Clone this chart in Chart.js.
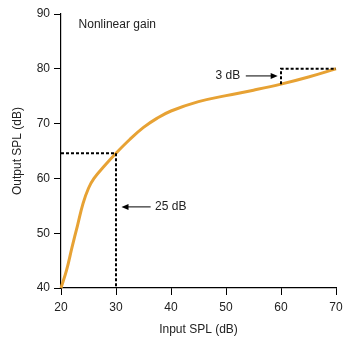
<!DOCTYPE html>
<html>
<head>
<meta charset="utf-8">
<script src="https://cdn.jsdelivr.net/npm/chart.js@4"></script>
<style>
  html, body { margin: 0; padding: 0; background: #fff; }
  #wrap { width: 357px; height: 342px; }
</style>
</head>
<body>
<div id="wrap"><canvas id="gain"></canvas></div>
<script>
// input / output levels of the gain curve (dB SPL)
const inputLevels  = [20, 21, 22, 23, 24, 25, 26, 28, 30, 32.5, 35, 37.5, 40, 45, 50, 55, 60, 65, 70];
const outputLevels = [40, 43.2, 47.4, 51.4, 55.4, 58.2, 60, 62.4, 64.6, 67.1, 69.3, 71, 72.3, 74, 75.1, 76.1, 77.2, 78.5, 80];

// dashed guides: 25 dB of output range, and the 3 dB step at the top
const guide25x = [20, 30, 30];
const guide25y = [64.6, 64.6, 40];
const guide3x  = [60, 60, 70];
const guide3y  = [77.2, 80, 80];

const xTicks = [20, 30, 40, 50, 60, 70];
const yTicks = [40, 50, 60, 70, 80, 90];

// text labels and their arrows, in data units
const notes = [
  { text: "Nonlinear gain", x: 23.2, y: 88, align: "left" },
  { text: "3 dB", x: 52.6, y: 78.7, align: "right" },
  { text: "25 dB", x: 37.1, y: 54.8, align: "left" }
];
const arrows = [
  { from: [53.6, 78.7], to: [59.4, 78.7] },
  { from: [36.3, 54.8], to: [31.0, 54.8] }
];

const FONT = "'Liberation Sans', Arial, Helvetica, sans-serif";
const INK = "#222";

function pts(xs, ys)
{
  return xs.map((x, i) => ({ x: x, y: ys[i] }));
}

const notesPlugin = {
  id: "notes",
  afterDatasetsDraw(chart)
  {
    const ctx = chart.ctx;
    const xs = chart.scales.x;
    const ys = chart.scales.y;

    ctx.save();
    ctx.fillStyle = INK;
    ctx.font = "12px " + FONT;
    ctx.textBaseline = "middle";
    for (const n of notes)
    {
      ctx.textAlign = n.align;
      ctx.fillText(n.text, xs.getPixelForValue(n.x), ys.getPixelForValue(n.y));
    }

    ctx.strokeStyle = "#000";
    ctx.fillStyle = "#000";
    ctx.lineWidth = 1;
    for (const a of arrows)
    {
      const x0 = xs.getPixelForValue(a.from[0]);
      const y0 = ys.getPixelForValue(a.from[1]);
      const x1 = xs.getPixelForValue(a.to[0]);
      const y1 = ys.getPixelForValue(a.to[1]);
      const dir = Math.sign(x1 - x0);
      ctx.beginPath();
      ctx.moveTo(x0, y0);
      ctx.lineTo(x1 - dir * 5, y1);
      ctx.stroke();
      ctx.beginPath();
      ctx.moveTo(x1, y1);
      ctx.lineTo(x1 - dir * 7, y1 - 3);
      ctx.lineTo(x1 - dir * 7, y1 + 3);
      ctx.closePath();
      ctx.fill();
    }
    ctx.restore();
  }
};

const axisStyle = {
  border: { display: true, color: "#000", width: 1.2 },
  grid: { drawOnChartArea: false, drawTicks: true, tickLength: 7, color: "#000", lineWidth: 1 },
  ticks: { color: INK, font: { family: FONT, size: 12 }, padding: 4, stepSize: 10 }
};

new Chart(document.getElementById("gain"), {
  type: "line",
  data: {
    datasets: [
      {
        data: pts(guide25x, guide25y),
        borderColor: "#000",
        borderWidth: 2,
        borderDash: [3, 2],
        pointRadius: 0,
        tension: 0
      },
      {
        data: pts(guide3x, guide3y),
        borderColor: "#000",
        borderWidth: 2,
        borderDash: [3, 2],
        pointRadius: 0,
        tension: 0
      },
      {
        data: pts(inputLevels, outputLevels),
        borderColor: "rgb(231, 162, 52)",
        borderWidth: 3,
        pointRadius: 0,
        tension: 0.4,
        clip: false
      }
    ]
  },
  options: {
    responsive: true,
    maintainAspectRatio: false,
    animation: false,
    layout: { padding: { left: 0, right: 21, top: 14, bottom: 0 } },
    plugins: { legend: { display: false }, tooltip: { enabled: false } },
    scales: {
      x: Object.assign({}, axisStyle, {
        type: "linear",
        min: xTicks[0],
        max: xTicks[xTicks.length - 1],
        afterFit: (s) => { s.height = 54; },
        ticks: Object.assign({}, axisStyle.ticks, { padding: 5 }),
        title: { display: true, text: "Input SPL (dB)", color: INK, font: { family: FONT, size: 12 }, padding: 5 }
      }),
      y: Object.assign({}, axisStyle, {
        min: yTicks[0],
        max: yTicks[yTicks.length - 1],
        afterFit: (s) => { s.width = 61; },
        title: { display: true, text: "Output SPL (dB)", color: INK, font: { family: FONT, size: 12 }, padding: 10 }
      })
    }
  },
  plugins: [notesPlugin]
});
</script>
</body>
</html>
